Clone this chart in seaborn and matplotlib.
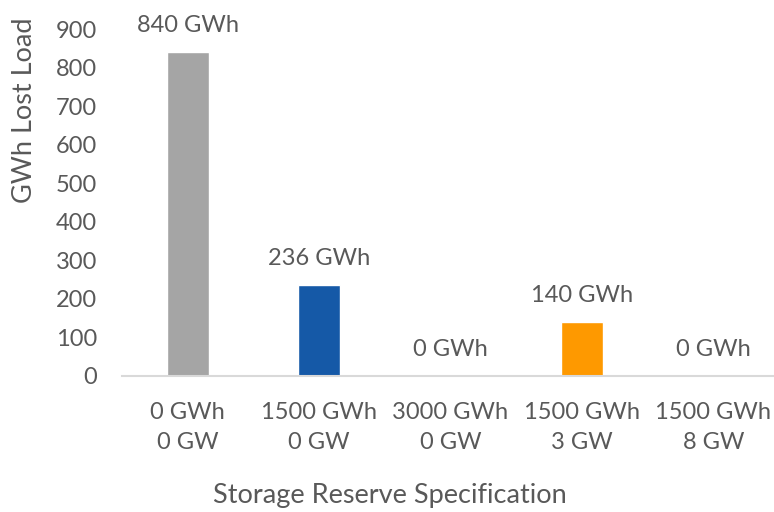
import matplotlib
matplotlib.use("Agg")
import matplotlib.pyplot as plt
import seaborn as sns
import pandas as pd

# Chart data
categories = ["0 GWh\n0 GW", "1500 GWh\n0 GW", "3000 GWh\n0 GW", "1500 GWh\n3 GW", "1500 GWh\n8 GW"]
lost_load = [840, 236, 0, 140, 0]
bar_colors = ["#A5A5A5", "#1559A7", "#A5A5A5", "#FE9900", "#A5A5A5"]
y_ticks = [0, 100, 200, 300, 400, 500, 600, 700, 800, 900]

TEXT = "#595959"
FS = 17
FS_TITLE = 19.5

sns.set_theme(style="white")
plt.rcParams["font.family"] = ["Lato", "DejaVu Sans"]

df = pd.DataFrame({"spec": categories, "gwh": lost_load})

fig = plt.figure(figsize=(7.74, 5.12), dpi=100, facecolor="white")
W, H = 774, 512
ax = fig.add_axes([122 / W, (H - 376) / H, (779 - 122) / W, (376 - 29) / H])

sns.barplot(data=df, x="spec", y="gwh", hue="spec", palette=bar_colors,
            width=0.32, legend=False, ax=ax, saturation=1)

ax.set_ylim(0, 900)
ax.set_xlim(-0.5, len(categories) - 0.5)
ax.set_yticks(y_ticks)
ax.tick_params(axis="y", length=0, pad=18, labelsize=FS, labelcolor=TEXT)
ax.tick_params(axis="x", length=0, pad=19, labelsize=FS, labelcolor=TEXT)
for lbl in ax.get_xticklabels():
    lbl.set_linespacing(1.5)

for s in ["top", "right", "left"]:
    ax.spines[s].set_visible(False)
ax.spines["bottom"].set_color("#D9D9D9")
ax.spines["bottom"].set_linewidth(1.5)

# value labels
for i, v in enumerate(lost_load):
    ax.annotate(f"{v} GWh", xy=(i, v), xytext=(0, 16), textcoords="offset pixels",
                ha="center", va="bottom", fontsize=FS, color=TEXT, annotation_clip=False)

ax.set_xlabel("Storage Reserve Specification", fontsize=FS_TITLE, color=TEXT)
ax.set_ylabel("GWh Lost Load", fontsize=FS_TITLE, color=TEXT)
ax.xaxis.set_label_coords((390 - 122) / (779 - 122), -(496 - 376) / (376 - 29))
ax.yaxis.set_label_coords(-(122 - 24) / (779 - 122), (376 - 110) / (376 - 29))
ax.xaxis.label.set_va("center")
ax.yaxis.label.set_va("center")

fig.savefig("out.png", dpi=100, facecolor="white")
